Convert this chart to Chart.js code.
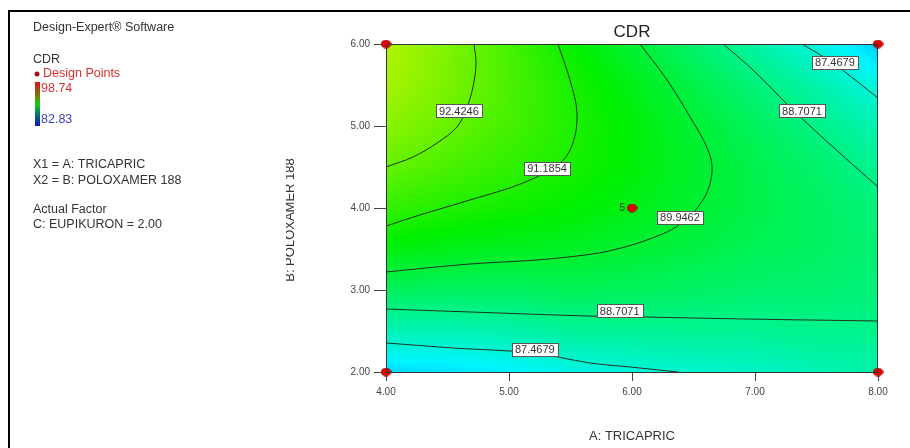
<!DOCTYPE html>
<html><head><meta charset="utf-8">
<script src="https://cdn.jsdelivr.net/npm/chart.js@4.4.1/dist/chart.umd.min.js"></script>
<style>html,body{margin:0;padding:0;background:#fff}#wrap{width:910px;height:448px}</style>
</head><body><div id="wrap"><canvas id="c" width="910" height="448"></canvas></div>
<script>
// CDR contour (Design-Expert style)
const gridA = [4.0, 4.5, 5.0, 5.5, 6.0, 6.5, 7.0, 7.5, 8.0];
const gridB = [2.0, 2.5, 3.0, 3.5, 4.0, 4.5, 5.0, 5.5, 6.0];
// rows follow gridB, columns follow gridA
const cdrGrid = [
  [86.39, 86.48, 86.72, 87.19, 87.39, 87.56, 87.69, 87.97, 88.13],
  [87.99, 87.99, 88.12, 88.42, 88.48, 88.50, 88.49, 88.61, 88.62],
  [89.39, 89.30, 89.31, 89.43, 89.36, 89.23, 89.08, 89.04, 88.91],
  [90.59, 90.40, 90.28, 90.22, 90.01, 89.74, 89.47, 89.26, 88.99],
  [91.60, 91.30, 91.04, 90.79, 90.45, 90.04, 89.64, 89.28, 88.87],
  [92.42, 91.99, 91.58, 91.15, 90.66, 90.12, 89.60, 89.10, 88.54],
  [93.04, 92.48, 91.91, 91.28, 90.66, 89.99, 89.35, 88.71, 88.01],
  [93.46, 92.76, 92.02, 91.19, 90.44, 89.64, 88.90, 88.12, 87.27],
  [93.69, 92.84, 91.92, 90.88, 89.99, 89.07, 88.23, 87.32, 86.10]
];
const cdrLow = 82.83, cdrHigh = 98.74;

const designA = [6, 4, 4, 8, 8];
const designB = [4, 2, 6, 2, 6];
const ticksA = [4, 5, 6, 7, 8];
const ticksB = [2, 3, 4, 5, 6];

// contour lines
const c92A = [4.715, 4.732, 4.707, 4.659, 4.577, 4.415, 4.220, 4.0];
const c92B = [6.0, 5.768, 5.476, 5.232, 4.988, 4.793, 4.622, 4.5];
const c91A = [5.398, 5.496, 5.553, 5.520, 5.415, 5.114, 4.683, 4.276, 4.0];
const c91B = [6.0, 5.561, 5.159, 4.793, 4.549, 4.305, 4.098, 3.915, 3.780];
const c89A = [6.065, 6.285, 6.472, 6.618, 6.650, 6.577, 6.382, 6.122, 5.846, 5.618, 5.228, 4.683, 4.0];
const c89B = [6.0, 5.561, 5.110, 4.707, 4.427, 4.098, 3.793, 3.610, 3.488, 3.427, 3.366, 3.317, 3.220];
const c88uA = [6.740, 6.984, 7.309, 7.634, 8.0];
const c88uB = [6.0, 5.683, 5.195, 4.744, 4.256];
const c87uA = [7.382, 7.634, 8.0];
const c87uB = [6.0, 5.768, 5.341];
const c88lA = [4.0, 4.683, 5.634, 6.089, 6.935, 8.0];
const c88lB = [2.768, 2.732, 2.683, 2.671, 2.646, 2.622];
const c87lA = [4.0, 4.545, 5.195, 5.659, 5.984, 6.374];
const c87lB = [2.354, 2.293, 2.232, 2.110, 2.061, 2.0];

const labelText = ['92.4246', '91.1854', '89.9462', '88.7071', '87.4679', '88.7071', '87.4679'];
const labelA = [4.593, 5.309, 6.39, 7.382, 7.65, 5.90, 5.21];
const labelB = [5.183, 4.476, 3.89, 5.183, 5.78, 2.744, 2.28];

const RAMP = [[0, 0, 0, 255], [0.25, 0, 245, 255], [0.5, 0, 240, 0], [0.75, 245, 245, 0], [1, 255, 0, 0]];
function ramp(t){
  t = Math.max(0, Math.min(1, t));
  for (let k = 1; k < RAMP.length; k++){
    if (t <= RAMP[k][0]){
      const p = RAMP[k-1], q = RAMP[k], f = (t - p[0]) / (q[0] - p[0]);
      return [p[1]+(q[1]-p[1])*f, p[2]+(q[2]-p[2])*f, p[3]+(q[3]-p[3])*f];
    }
  }
  return RAMP[RAMP.length-1].slice(1);
}
function idx(arr, v){
  let i = 0;
  while (i < arr.length - 2 && v > arr[i+1]) i++;
  return [i, Math.max(0, Math.min(1, (v - arr[i]) / (arr[i+1] - arr[i])))];
}
function sample(a, b){
  const [i, fx] = idx(gridA, a), [j, fy] = idx(gridB, b);
  const v00 = cdrGrid[j][i], v10 = cdrGrid[j][i+1], v01 = cdrGrid[j+1][i], v11 = cdrGrid[j+1][i+1];
  return (v00*(1-fx) + v10*fx)*(1-fy) + (v01*(1-fx) + v11*fx)*fy;
}
const pts = (xs, ys) => xs.map((v, i) => ({x: v, y: ys[i]}));

const dot = document.createElement('canvas');
dot.width = 11; dot.height = 9;
(() => { const g = dot.getContext('2d'); g.fillStyle = '#e00000'; g.strokeStyle = '#a00000';
  g.beginPath(); g.ellipse(5.5, 4.5, 4.8, 3.8, 0, 0, Math.PI*2); g.fill(); g.stroke(); })();

const FONT = 'Arial, "Liberation Sans"';

const heat = {
  id: 'heat',
  beforeDraw(chart){ const c = chart.ctx; c.save(); c.fillStyle = '#fff'; c.fillRect(0, 0, chart.width, chart.height); c.restore(); },
  beforeDatasetsDraw(chart){
    const {ctx, chartArea: a, scales: {x, y}} = chart;
    const w = Math.round(a.right - a.left), h = Math.round(a.bottom - a.top);
    const img = ctx.createImageData(w, h);
    for (let j = 0; j < h; j++){
      const bv = y.getValueForPixel(a.top + j + 0.5);
      for (let i = 0; i < w; i++){
        const av = x.getValueForPixel(a.left + i + 0.5);
        const col = ramp((sample(av, bv) - cdrLow) / (cdrHigh - cdrLow));
        const o = (j*w + i)*4;
        img.data[o] = col[0]; img.data[o+1] = col[1]; img.data[o+2] = col[2]; img.data[o+3] = 255;
      }
    }
    ctx.putImageData(img, Math.round(a.left), Math.round(a.top));
  },
  afterDatasetsDraw(chart){
    const {ctx, chartArea: a, scales: {x, y}} = chart;
    ctx.save();
    ctx.strokeStyle = '#333'; ctx.lineWidth = 1;
    ctx.strokeRect(a.left + 0.5, a.top + 0.5, a.right - a.left - 1, a.bottom - a.top);
    ctx.font = '11px ' + FONT; ctx.textAlign = 'center'; ctx.textBaseline = 'middle';
    labelText.forEach((t, i) => {
      const px = x.getPixelForValue(labelA[i]), py = y.getPixelForValue(labelB[i]);
      const w = Math.round(ctx.measureText(t).width + 6);
      const bx = Math.round(px - w/2) + 0.5, by = Math.round(py - 6.5) + 0.5;
      ctx.fillStyle = '#fff'; ctx.fillRect(bx, by, w, 13);
      ctx.strokeStyle = '#555'; ctx.strokeRect(bx, by, w, 13);
      ctx.fillStyle = '#333'; ctx.fillText(t, px, py + 0.5);
    });
    ctx.restore();
  },
  afterDraw(chart){
    const {ctx, scales: {x, y}} = chart;
    ctx.save();
    // outer frame
    ctx.fillStyle = '#000';
    ctx.fillRect(8, 10, 902, 2); ctx.fillRect(8, 10, 2, 438);
    // left notes
    ctx.textBaseline = 'middle'; ctx.textAlign = 'left';
    ctx.font = '12.5px ' + FONT;
    ctx.fillStyle = '#333';
    ctx.fillText('Design-Expert\u00AE Software', 33, 28);
    ctx.fillText('CDR', 33, 60);
    ctx.fillText('X1 = A: TRICAPRIC', 33, 165);
    ctx.fillText('X2 = B: POLOXAMER 188', 33, 181);
    ctx.fillText('Actual Factor', 33, 210);
    ctx.fillText('C: EUPIKURON = 2.00', 33, 225);
    ctx.fillStyle = '#d83030';
    ctx.fillText('Design Points', 43, 74);
    ctx.beginPath(); ctx.arc(37, 74, 2.5, 0, Math.PI*2); ctx.fillStyle = '#a01010'; ctx.fill();
    const gr = ctx.createLinearGradient(0, 82, 0, 126);
    gr.addColorStop(0, '#e01010'); gr.addColorStop(0.25, '#906010'); gr.addColorStop(0.5, '#10d010');
    gr.addColorStop(0.75, '#0a7070'); gr.addColorStop(1, '#1010c0');
    ctx.fillStyle = gr; ctx.fillRect(35, 82, 5, 44);
    ctx.fillStyle = '#d83030'; ctx.fillText('98.74', 41, 89);
    ctx.fillStyle = '#4040c0'; ctx.fillText('82.83', 41, 120);
    // titles
    ctx.fillStyle = '#222'; ctx.textAlign = 'center';
    ctx.font = '17px ' + FONT;
    ctx.fillText('CDR', 632, 32);
    ctx.font = '13px ' + FONT; ctx.fillStyle = '#333';
    ctx.fillText('A: TRICAPRIC', 632, 436);
    ctx.save();
    ctx.beginPath(); ctx.rect(286, 100, 60, 250); ctx.clip();
    ctx.translate(290, 220); ctx.rotate(-Math.PI/2);
    ctx.fillText('B: POLOXAMER 188', 0, 0);
    ctx.restore();
    // replicate count at the centre point
    ctx.font = '10px ' + FONT; ctx.fillStyle = '#333'; ctx.textAlign = 'right';
    ctx.fillText('5', x.getPixelForValue(designA[0]) - 7, y.getPixelForValue(designB[0]));
    ctx.restore();
  }
};

const line = (xs, ys) => ({type: 'line', data: pts(xs, ys), showLine: true, pointRadius: 0,
  borderColor: '#1d3320', borderWidth: 1, tension: 0.35, fill: false});

const tickOpts = (len, pad) => ({
  grid: {drawOnChartArea: false, drawTicks: true, tickLength: len, color: '#444'},
  border: {display: false},
  ticks: {font: {size: 10, family: FONT}, color: '#444', padding: pad, maxRotation: 0, callback: v => Number(v).toFixed(2)}
});

new Chart(document.getElementById('c'), {
  type: 'scatter',
  data: {datasets: [
    {data: pts(designA, designB), pointStyle: dot, pointRadius: 5, clip: false},
    line(c92A, c92B), line(c91A, c91B), line(c89A, c89B), line(c88uA, c88uB),
    line(c87uA, c87uB), line(c88lA, c88lB), line(c87lA, c87lB)
  ]},
  options: {
    responsive: false, animation: false, devicePixelRatio: 1,
    layout: {padding: {top: 44, right: 32, left: 0, bottom: 0}},
    plugins: {legend: {display: false}, title: {display: false}, tooltip: {enabled: false}},
    scales: {
      x: {type: 'linear', min: 4, max: 8, ...tickOpts(9, 5),
        afterBuildTicks: s => { s.ticks = ticksA.map(v => ({value: v})); },
        afterFit: s => { s.height = 76; }},
      y: {type: 'linear', min: 2, max: 6, ...tickOpts(12, 4),
        afterBuildTicks: s => { s.ticks = ticksB.map(v => ({value: v})); },
        afterFit: s => { s.width = 386; }}
    }
  },
  plugins: [heat]
});
</script></body></html>
